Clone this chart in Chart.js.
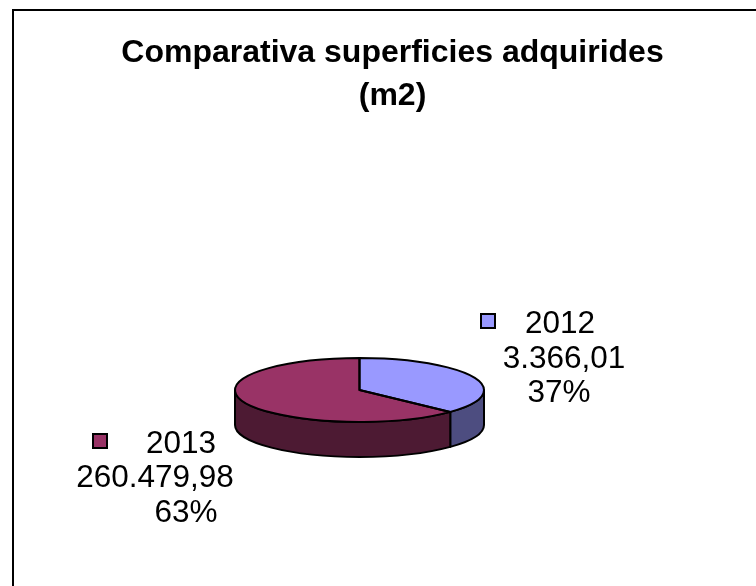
<!DOCTYPE html>
<html>
<head>
<meta charset="utf-8">
<style>
  html, body { margin: 0; padding: 0; background: #fff; }
  canvas { display: block; }
</style>
<script src="https://cdn.jsdelivr.net/npm/chart.js@4"></script>
</head>
<body>
<canvas id="pieChart" width="756" height="586"></canvas>
<script>
const categories = ['2012', '2013']
const shares = [37, 63]
const valueLabels = ['3.366,01', '260.479,98']
const titleLines = ['Comparativa superficies adquirides', '(m2)']

const topColors = ['#9999ff', '#993366']
const sideColors = ['#4d4d80', '#4d1a33']

// where the flattened pie sits on the page
const pieX = 359.5
const pieY = 390
const pieRadius = 124.5
const pieFlat = 32 / 124.5
const pieDepth = 35

const labelFont = '31.5px "Liberation Sans", Arial, sans-serif'
const labelSpots = [
    { key: [481, 314], name: [560, 333], value: [564, 368], pct: [559, 402] },
    { key: [93, 434], name: [181, 453], value: [155, 487], pct: [186, 522] }
]

function drawWalls(ctx, arcs) {
    const ry = pieRadius * pieFlat
    arcs.forEach((arc, i) => {
        // only the front half of the rim can be seen
        const from = Math.max(arc.startAngle, 0)
        const to = Math.min(arc.endAngle, Math.PI)
        if (to <= from) return
        ctx.beginPath()
        ctx.ellipse(pieX, pieY, pieRadius, ry, 0, from, to)
        ctx.ellipse(pieX, pieY + pieDepth, pieRadius, ry, 0, to, from, true)
        ctx.closePath()
        ctx.fillStyle = sideColors[i]
        ctx.fill()
        ctx.stroke()
    })
}

const flatPie = {
    id: 'flatPie',
    beforeDraw(chart) {
        const ctx = chart.ctx
        ctx.save()
        ctx.fillStyle = '#000'
        ctx.fillRect(12, 9, 744, 2)
        ctx.fillRect(12, 9, 2, 577)
        ctx.restore()
    },
    beforeDatasetsDraw(chart) {
        const ctx = chart.ctx
        const arcs = chart.getDatasetMeta(0).data
        ctx.save()
        ctx.lineWidth = 2
        ctx.strokeStyle = '#000'
        ctx.lineJoin = 'round'
        drawWalls(ctx, arcs)
        ctx.restore()
        // the library fills the slices inside this squashed space
        ctx.save()
        ctx.translate(pieX, pieY)
        ctx.scale(1, pieFlat)
        ctx.translate(-arcs[0].x, -arcs[0].y)
    },
    afterDatasetsDraw(chart) {
        const ctx = chart.ctx
        ctx.restore()
        const ry = pieRadius * pieFlat
        ctx.save()
        ctx.lineWidth = 2
        ctx.strokeStyle = '#000'
        ctx.lineJoin = 'round'
        chart.getDatasetMeta(0).data.forEach(arc => {
            ctx.beginPath()
            ctx.moveTo(pieX, pieY)
            ctx.ellipse(pieX, pieY, pieRadius, ry, 0, arc.startAngle, arc.endAngle)
            ctx.closePath()
            ctx.stroke()
        })
        ctx.restore()
    },
    afterDraw(chart) {
        const ctx = chart.ctx
        ctx.save()
        ctx.font = labelFont
        ctx.textAlign = 'center'
        ctx.textBaseline = 'alphabetic'
        categories.forEach((name, i) => {
            const spot = labelSpots[i]
            ctx.fillStyle = topColors[i]
            ctx.strokeStyle = '#000'
            ctx.lineWidth = 2
            ctx.fillRect(spot.key[0], spot.key[1], 14, 14)
            ctx.strokeRect(spot.key[0], spot.key[1], 14, 14)
            ctx.fillStyle = '#000'
            ctx.fillText(name, spot.name[0], spot.name[1])
            ctx.fillText(valueLabels[i], spot.value[0], spot.value[1])
            ctx.fillText(shares[i] + '%', spot.pct[0], spot.pct[1])
        })
        ctx.restore()
    }
}

new Chart(document.getElementById('pieChart'), {
    type: 'pie',
    data: {
        labels: categories,
        datasets: [{
            data: shares,
            backgroundColor: topColors,
            borderWidth: 0,
            radius: pieRadius
        }]
    },
    options: {
        responsive: false,
        animation: false,
        layout: { padding: { left: 29 } },
        plugins: {
            legend: { display: false },
            tooltip: { enabled: false },
            title: {
                display: true,
                text: titleLines,
                color: '#000',
                font: { family: '"Liberation Sans", Arial, sans-serif', size: 32, weight: 'bold', lineHeight: 1.36 },
                padding: { top: 31, bottom: 0 }
            }
        }
    },
    plugins: [flatPie]
})
</script>
</body>
</html>
